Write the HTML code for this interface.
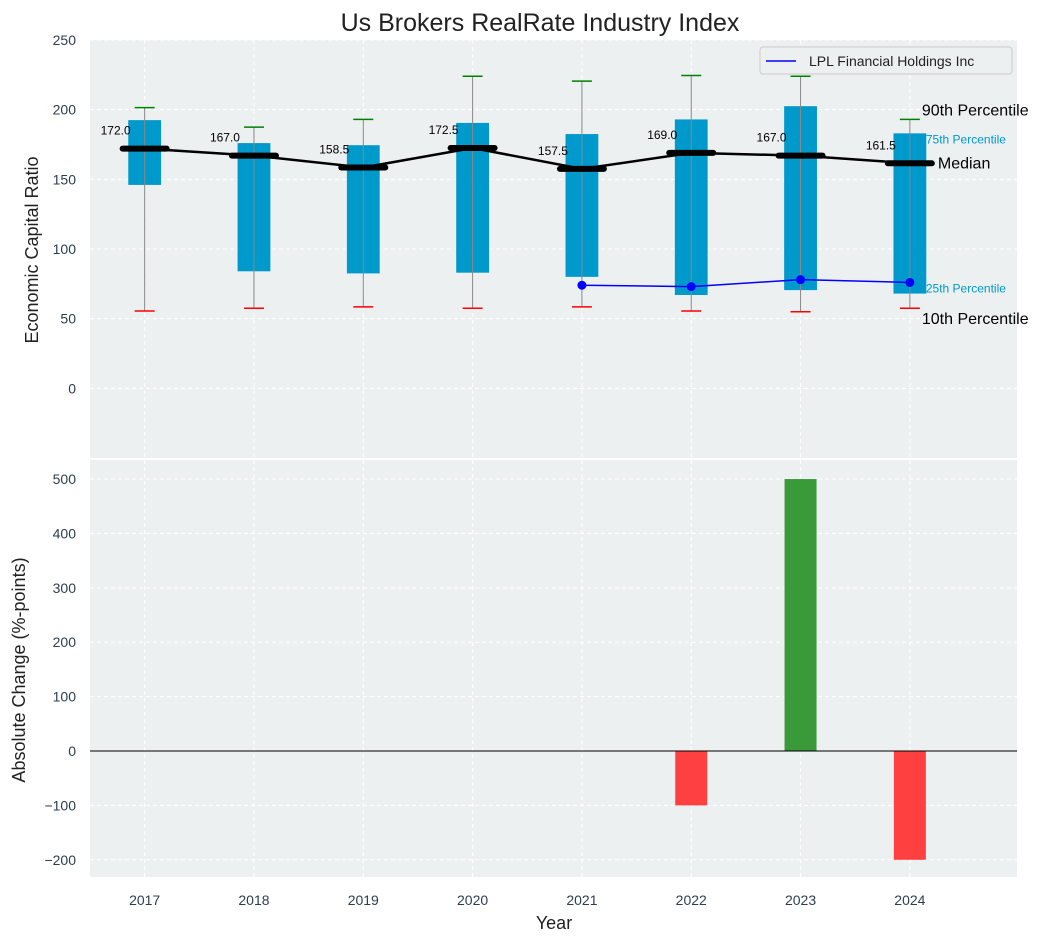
<!DOCTYPE html>
<html><head><meta charset="utf-8"><style>
body{margin:0;background:#fff;}
svg{font-family:"Liberation Sans","DejaVu Sans",sans-serif;}
</style></head><body>
<svg id="chart" width="1057" height="942" xmlns="http://www.w3.org/2000/svg">
<text x="540" y="31" text-anchor="middle" font-size="25" fill="#222">Us Brokers RealRate Industry Index</text>
<g id="topPanel"></g>
<g id="bottomPanel"></g>
</svg>
<script>
const years=[2017,2018,2019,2020,2021,2022,2023,2024];
const p10=[55.5,57.5,58.5,57.5,58.5,55.5,55,57.5];
const p25=[146,84,82.5,83,80,67,70.5,68];
const median=[172,167,158.5,172.5,157.5,169,167,161.5];
const p75=[192.5,176,174.5,190.5,182.5,193,202.5,183];
const p90=[201.5,187.5,193,224,220.5,224.5,224,193];
const lplYears=[2021,2022,2023,2024];
const lplValues=[74,73,78,76];
const changeYears=[2022,2023,2024];
const changeValues=[-100,500,-200];
const topTicks=[0,50,100,150,200,250];
const bottomTicks=[-200,-100,0,100,200,300,400,500];

const NS="http://www.w3.org/2000/svg";
function mk(parent,tag,attrs,text){const e=document.createElementNS(NS,tag);for(const k in attrs)e.setAttribute(k,attrs[k]);if(text!==undefined)e.textContent=text;parent.appendChild(e);return e;}
const X0=90,X1=1017;
function xs(v){return X0+(v-2016.5)/(2024.98-2016.5)*(X1-X0);}
function yTop(v){return 40+(250-v)*(418/300);}
function yBot(v){return 460+(535-v)*(417/766.6);}

const topG=document.getElementById('topPanel');
const botG=document.getElementById('bottomPanel');
const tickColor="#2c3e50";
let r=mk(topG,'rect',{x:X0,y:40,width:X1-X0,height:418,fill:"#ecf0f1"});

topTicks.forEach(t=>{
 let l=mk(topG,'line',{x1:X0,x2:X1,y1:yTop(t),y2:yTop(t),stroke:"#fff","stroke-dasharray":"4,3"});
 
 let tx=mk(topG,'text',{x:76,y:yTop(t)+5,"text-anchor":"end","font-size":14,fill:tickColor},t);
 
});
years.forEach(y=>{
 let l=mk(topG,'line',{x1:xs(y),x2:xs(y),y1:40,y2:458,stroke:"#fff","stroke-dasharray":"4,3"});
 
});
let yl=mk(topG,'text',{x:38,y:250,"text-anchor":"middle","font-size":18,fill:"#222",transform:"rotate(-90 38 250)"},"Economic Capital Ratio");

const bw=0.3*(xs(1)-xs(0));
years.forEach((y,i)=>{
 const cx=xs(y);
 let b=mk(topG,'rect',{x:cx-bw/2,y:yTop(p75[i]),width:bw,height:yTop(p25[i])-yTop(p75[i]),fill:"#0099cc"});
 
 let w=mk(topG,'line',{x1:cx,x2:cx,y1:yTop(p90[i]),y2:yTop(p10[i]),stroke:"#888","stroke-width":1});
 
 let c1=mk(topG,'line',{x1:cx-10,x2:cx+10,y1:yTop(p90[i]),y2:yTop(p90[i]),stroke:"green","stroke-width":1.5});
 
 let c2=mk(topG,'line',{x1:cx-10,x2:cx+10,y1:yTop(p10[i]),y2:yTop(p10[i]),stroke:"red","stroke-width":1.5});
 
});
let pts=years.map((y,i)=>xs(y)+","+yTop(median[i])).join(" ");
let ml=mk(topG,'polyline',{points:pts,fill:"none",stroke:"#000","stroke-width":2.5});

years.forEach((y,i)=>{
 const cx=xs(y);
 let m=mk(topG,'line',{x1:cx-22,x2:cx+22,y1:yTop(median[i]),y2:yTop(median[i]),stroke:"#000","stroke-width":6,"stroke-linecap":"round"});
 
 let t=mk(topG,'text',{x:cx-14,y:yTop(median[i])-14,"text-anchor":"end","font-size":12,fill:"#000"},median[i].toFixed(1));
 
});
let lp=mk(topG,'polyline',{points:lplYears.map((y,i)=>xs(y)+","+yTop(lplValues[i])).join(" "),fill:"none",stroke:"blue","stroke-width":1.5});

lplYears.forEach((y,i)=>{
 let c=mk(topG,'circle',{cx:xs(y),cy:yTop(lplValues[i]),r:4.5,fill:"blue"});
 
});
const last=years.length-1,lx=xs(years[last]);
const labelDy=[-4,10,5,-1,16];
[[p90[last],"90th Percentile",16,"#000",12],[p75[last],"75th Percentile",12,"#0099cc",16],[median[last],"Median",16,"#000",28],[p25[last],"25th Percentile",12,"#0099cc",16],[p10[last],"10th Percentile",16,"#000",12]].forEach((a,k)=>{
 let t=mk(topG,'text',{x:lx+a[4],y:yTop(a[0])+labelDy[k],"font-size":a[2],fill:a[3]},a[1]);
 
});
let lg=mk(topG,'g',{});
mk(lg,'rect',{x:760,y:47,width:252,height:27,rx:3,fill:"#ecf0f1",stroke:"#ccc"});
mk(lg,'line',{x1:766,x2:796,y1:61,y2:61,stroke:"blue","stroke-width":1.5});
let lt=mk(lg,'text',{x:809,y:66,"font-size":14,fill:"#222"},"LPL Financial Holdings Inc");


let r2=mk(botG,'rect',{x:X0,y:460,width:X1-X0,height:417,fill:"#ecf0f1"});

bottomTicks.forEach(t=>{
 let l=mk(botG,'line',{x1:X0,x2:X1,y1:yBot(t),y2:yBot(t),stroke:"#fff","stroke-dasharray":"4,3"});
 
 let tx=mk(botG,'text',{x:76,y:yBot(t)+5,"text-anchor":"end","font-size":14,fill:tickColor},t<0?"\u2212"+(-t):t);
 
});
years.forEach(y=>{
 let l=mk(botG,'line',{x1:xs(y),x2:xs(y),y1:460,y2:877,stroke:"#fff","stroke-dasharray":"4,3"});
 
 let t=mk(botG,'text',{x:xs(y),y:905,"text-anchor":"middle","font-size":14,fill:tickColor},y);
 
});
changeYears.forEach((y,i)=>{
 const v=changeValues[i];
 let b=mk(botG,'rect',{x:xs(y)-16,y:Math.min(yBot(v),yBot(0)),width:32,height:Math.abs(yBot(v)-yBot(0)),fill:v>=0?"#3a9a3a":"#ff4040"});
 
});
let zl=mk(botG,'line',{x1:X0,x2:X1,y1:yBot(0),y2:yBot(0),stroke:"#000","stroke-width":1});

let yl2=mk(botG,'text',{x:25,y:670,"text-anchor":"middle","font-size":18,fill:"#222",transform:"rotate(-90 25 670)"},"Absolute Change (%-points)");

let xl=mk(botG,'text',{x:554,y:929,"text-anchor":"middle","font-size":18,fill:"#222"},"Year");

</script>
</body></html>
